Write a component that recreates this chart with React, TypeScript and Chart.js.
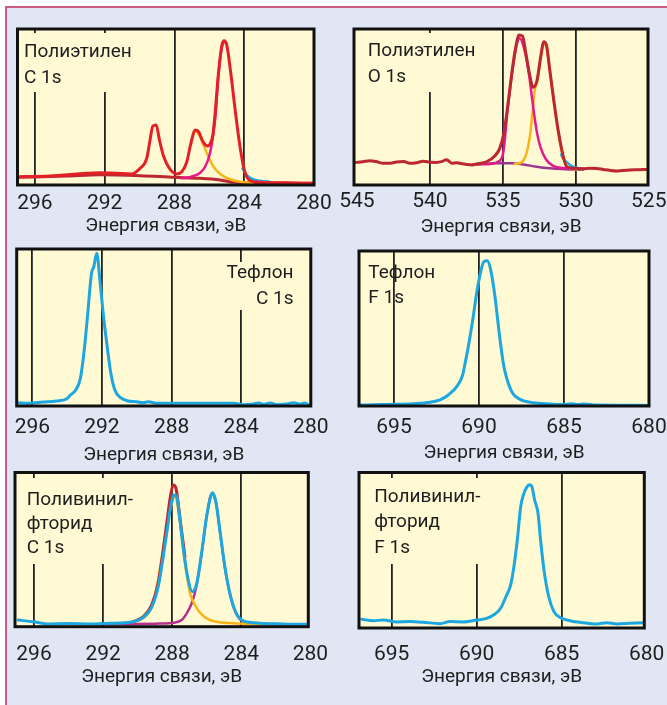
import React, { useEffect, useRef } from 'react';
import { Chart, registerables } from 'chart.js';

Chart.register(...registerables);

const W = 667;
const H = 705;
const AXIS_TITLE = 'Энергия связи, эВ';
const FONT = 'Roboto, "Open Sans", sans-serif';

// ---------- Panel 1: Полиэтилен C 1s ----------
const C_TICKS = [296, 292, 288, 284, 280];
const PE_C_RED_EV = [297.0, 295.14, 292.27, 291.31, 290.45, 289.97, 289.59, 289.4, 289.24, 289.05, 288.86, 288.63, 288.25, 287.87, 287.58, 287.29, 287.06, 286.82, 286.62, 286.37, 286.11, 285.95, 285.8, 285.67, 285.48, 285.28, 285.15, 285.0, 284.77, 284.52, 284.27, 284.04, 283.85, 283.6, 283.08, 281.75, 280.06];
const PE_C_RED = [5.3, 5.8, 7.9, 7.5, 7.1, 10.7, 17.1, 28.8, 37.8, 38.5, 28.8, 18.6, 10.0, 7.1, 8.5, 14.9, 26.7, 35.3, 34.2, 27.8, 25.0, 26.5, 32.0, 46.0, 71.6, 89.7, 92.5, 89.7, 71.6, 48.1, 26.7, 11.7, 5.0, 2.5, 1.8, 1.4, 1.1];
const PE_C_ORANGE_EV = [287.06, 286.82, 286.56, 286.3, 286.05, 285.76, 285.38, 284.81, 284.23, 283.47];
const PE_C_ORANGE = [26.0, 34.8, 31.5, 24.6, 18.1, 11.7, 7.1, 3.7, 2.1, 1.5];
const PE_C_MAGENTA_EV = [287.6, 287.29, 286.91, 286.53, 286.24, 285.99, 285.8, 285.65, 285.48, 285.28, 285.15];
const PE_C_MAGENTA = [4.4, 4.7, 5.8, 7.9, 11.7, 19.2, 30.6, 44.0, 70.0, 88.5, 91.8];
const PE_C_CYAN_EV = [284.1, 283.9, 283.6, 283.3, 282.9, 282.55];
const PE_C_CYAN = [10.5, 6.8, 4.2, 3.0, 2.4, 2.1];
const PE_C_BASE_EV = [297.0, 294.18, 292.27, 289.97, 287.96, 286.53, 285.38, 284.62, 282.7, 280.06];
const PE_C_BASE = [4.9, 5.8, 6.6, 6.0, 4.9, 4.3, 3.2, 1.7, 1.3, 1.1];

// ---------- Panel 2: Полиэтилен O 1s ----------
const O_TICKS = [545, 540, 535, 530, 525];
const PE_O_RED_EV = [545.07, 544.6, 544.11, 543.7, 543.2, 542.7, 542.28, 541.8, 541.37, 540.9, 540.46, 540.0, 539.54, 539.2, 538.86, 538.5, 538.17, 537.8, 537.49, 537.1, 536.8, 536.12, 535.55, 535.21, 534.93, 534.64, 534.34, 534.11, 533.88, 533.65, 533.42, 533.2, 532.92, 532.65, 532.42, 532.19, 532.01, 531.78, 531.51, 531.21, 530.91, 530.75, 530.6, 530.2, 529.5, 529.04, 528.6, 528.13, 527.7, 527.21, 526.8, 526.3, 525.7, 525.16];
const PE_O_RED = [14.5, 14.9, 15.6, 15.1, 13.9, 14.0, 14.7, 15.0, 13.9, 14.3, 15.2, 14.6, 14.5, 15.0, 16.2, 14.0, 14.3, 13.6, 13.2, 12.9, 13.5, 14.9, 18.6, 23.5, 33.1, 52.4, 74.8, 88.7, 96.2, 95.5, 84.4, 72.6, 62.6, 67.3, 81.2, 91.9, 89.7, 73.7, 54.5, 35.3, 20.3, 14.5, 11.5, 10.8, 10.4, 10.7, 10.6, 10.0, 9.4, 9.0, 9.3, 9.6, 9.8, 10.0];
const PE_O_MAGENTA_EV = [537.03, 535.89, 535.32, 534.98, 534.64, 534.11, 533.85, 533.5, 533.2, 533.01, 532.83, 532.65, 532.42, 532.05, 531.55, 530.64, 529.5];
const PE_O_MAGENTA = [13.2, 13.5, 14.9, 20.3, 51.0, 87.0, 94.0, 86.0, 70.5, 56.6, 43.8, 33.1, 24.2, 16.5, 12.2, 10.7, 10.3];
const PE_O_ORANGE_EV = [534.18, 533.72, 533.38, 533.15, 532.97, 532.81, 532.65, 532.42, 532.19, 532.01, 531.78, 531.51, 531.21, 530.91, 530.7, 530.4, 529.9];
const PE_O_ORANGE = [13.5, 14.5, 20.3, 31.0, 46.0, 60.9, 66.0, 80.0, 90.5, 88.5, 72.5, 53.5, 34.5, 19.5, 13.5, 10.5, 10.0];
const PE_O_CYAN_EV = [531.0, 530.9, 530.6, 530.25, 529.8, 529.5];
const PE_O_CYAN = [19.5, 17.5, 14.5, 12.0, 10.8, 10.5];
const PE_O_BASE_EV = [537.03, 535.43, 534.4, 533.61, 532.69, 531.78, 530.41, 529.5];
const PE_O_BASE = [13.2, 13.9, 13.9, 13.2, 11.7, 10.7, 10.0, 10.0];

// ---------- Panel 3: Тефлон C 1s ----------
const PTFE_C_EV = [296.86, 296.16, 295.39, 294.62, 294.04, 293.81, 293.51, 293.24, 293.04, 292.85, 292.6, 292.47, 292.3, 292.12, 291.93, 291.7, 291.49, 291.26, 290.93, 290.49, 290.01, 289.63, 289.34, 288.86, 286.36, 284.44, 283.87, 283.29, 283.0, 282.72, 282.33, 281.95, 281.37, 280.99, 280.6, 280.37, 280.12];
const PTFE_C = [2.1, 1.7, 2.5, 3.2, 4.5, 7.0, 10.2, 17.6, 33.6, 54.8, 84.5, 88.7, 97.3, 80.3, 59.0, 37.8, 20.8, 10.2, 5.3, 3.2, 2.7, 2.1, 2.7, 1.7, 1.7, 1.7, 0.8, 1.3, 1.9, 1.1, 1.9, 0.8, 1.3, 2.1, 1.1, 1.9, 0.8];

// ---------- Panel 4: Тефлон F 1s ----------
const F_TICKS = [695, 690, 685, 680];
const PTFE_F_EV = [697.0, 695.82, 694.84, 693.86, 692.88, 692.29, 691.81, 691.31, 690.96, 690.82, 690.63, 690.37, 690.14, 689.9, 689.71, 689.51, 689.31, 689.06, 688.81, 688.57, 688.37, 688.02, 687.59, 686.81, 685.82, 685.04, 684.55, 684.16, 683.86, 683.08, 680.04];
const PTFE_F = [0.6, 0.9, 1.1, 1.5, 2.4, 3.9, 7.1, 12.5, 20.0, 27.5, 38.3, 55.5, 72.7, 86.7, 93.1, 93.7, 87.7, 70.5, 46.9, 27.5, 17.9, 8.2, 4.3, 2.1, 1.3, 0.9, 1.5, 0.9, 1.3, 0.6, 0.4];

// ---------- Panel 5: Поливинилфторид C 1s ----------
const PVF_C_CYAN_EV = [296.91, 296.04, 295.17, 294.11, 292.76, 291.6, 290.25, 289.67, 289.19, 288.81, 288.52, 288.29, 288.09, 287.9, 287.74, 287.55, 287.32, 287.07, 286.84, 286.58, 286.3, 286.01, 285.77, 285.66, 285.47, 285.24, 284.95, 284.66, 284.37, 283.98, 283.31, 281.57, 280.22];
const PVF_C_CYAN = [4.3, 3.2, 1.8, 2.0, 1.8, 2.2, 3.2, 6.1, 12.6, 25.9, 45.4, 62.7, 77.8, 85.4, 84.3, 69.2, 47.6, 30.3, 22.7, 28.1, 47.6, 71.3, 84.3, 86.9, 81.1, 62.7, 38.9, 21.7, 10.8, 4.3, 2.6, 1.8, 1.6];
const PVF_C_RED_EV = [290.25, 289.67, 289.19, 288.81, 288.52, 288.29, 288.09, 287.94, 287.78, 287.63, 287.45, 287.26];
const PVF_C_RED = [3.2, 6.5, 14.0, 28.1, 49.7, 69.2, 85.4, 91.9, 89.8, 77.8, 61.6, 45.4];
const PVF_C_ORANGE_EV = [290.25, 289.19, 288.09, 287.84, 287.55, 287.32, 287.11, 286.97, 286.68, 286.39, 286.01, 285.43, 284.47, 283.31, 281.57];
const PVF_C_ORANGE = [3.0, 12.4, 77.0, 84.3, 68.0, 46.0, 30.3, 21.7, 14.1, 9.1, 5.4, 3.2, 2.2, 1.8, 1.6];
const PVF_C_PURPLE_EV = [292.18, 290.25, 288.71, 287.94, 287.45, 287.16, 286.87, 286.58, 286.3, 286.01, 285.7, 285.47, 285.24, 284.95, 284.66, 284.37, 283.98, 283.31, 281.57];
const PVF_C_PURPLE = [1.8, 1.8, 2.0, 2.6, 4.3, 8.7, 15.2, 27.0, 47.0, 71.0, 86.5, 80.5, 62.3, 38.5, 21.3, 10.4, 3.9, 2.2, 1.6];

// ---------- Panel 6: Поливинилфторид F 1s ----------
const PVF_F_EV = [696.76, 696.08, 695.49, 694.71, 693.92, 693.14, 692.16, 691.57, 690.79, 690.0, 689.41, 688.92, 688.59, 688.28, 688.0, 687.81, 687.61, 687.41, 687.22, 687.05, 686.9, 686.75, 686.59, 686.39, 686.24, 686.04, 685.76, 685.45, 685.06, 684.51, 683.73, 682.94, 682.35, 681.76, 680.98, 680.2];
const PVF_F = [5.6, 4.7, 5.1, 3.9, 4.1, 3.7, 2.8, 4.1, 3.9, 5.1, 6.2, 9.0, 12.7, 20.1, 27.7, 39.4, 56.6, 78.0, 86.6, 90.6, 92.2, 90.8, 82.3, 73.8, 56.6, 37.3, 20.1, 10.5, 6.6, 4.7, 3.4, 2.6, 3.4, 2.6, 3.0, 3.4];

// ---------- colours ----------
const RED = '#e42027';
const DARK_RED = '#bb2830';
const ORANGE = '#f9b418';
const MAGENTA = '#e6188b';
const PURPLE = '#9a3790';
const PURPLE2 = '#b4318b';
const CYAN = '#1ca7e0';
const PANEL_BG = '#fff9d4';
const INK = '#1e1e1e';

type Series = { ev: number[]; val: number[]; color: string; width: number };
type PanelCfg = {
  area: [number, number, number, number];
  range: [number, number];
  ticks: number[];
  noGrid: number[];
  tickMid: number;
  titleMid: number;
  label: string[];
  labelX: number;
  labelY: number[];
  labelAlign: CanvasTextAlign;
  mask?: [number, number, number, number];
  series: Series[]; // bottom-most first
};

const PANELS: PanelCfg[] = [
  {
    area: [17.5, 29, 314, 185], range: [280, 297.0], ticks: C_TICKS, noGrid: [280],
    tickMid: 203.5, titleMid: 226,
    label: ['Полиэтилен', 'C 1s'], labelX: 24, labelY: [56.7, 83.3], labelAlign: 'left',
    mask: [20, 33, 142, 92],
    series: [
      { ev: PE_C_BASE_EV, val: PE_C_BASE, color: DARK_RED, width: 3 },
      { ev: PE_C_CYAN_EV, val: PE_C_CYAN, color: CYAN, width: 2.5 },
      { ev: PE_C_ORANGE_EV, val: PE_C_ORANGE, color: ORANGE, width: 2.5 },
      { ev: PE_C_MAGENTA_EV, val: PE_C_MAGENTA, color: MAGENTA, width: 2.5 },
      { ev: PE_C_RED_EV, val: PE_C_RED, color: RED, width: 3 },
    ],
  },
  {
    area: [354, 29, 648, 185], range: [525.05, 545.2], ticks: O_TICKS, noGrid: [545, 525],
    tickMid: 202, titleMid: 227,
    label: ['Полиэтилен', 'O 1s'], labelX: 367.7, labelY: [56, 81.7], labelAlign: 'left',
    mask: [360, 33, 485, 92],
    series: [
      { ev: PE_O_BASE_EV, val: PE_O_BASE, color: PURPLE, width: 2.5 },
      { ev: PE_O_CYAN_EV, val: PE_O_CYAN, color: CYAN, width: 2.5 },
      { ev: PE_O_ORANGE_EV, val: PE_O_ORANGE, color: ORANGE, width: 2.5 },
      { ev: PE_O_MAGENTA_EV, val: PE_O_MAGENTA, color: MAGENTA, width: 2.5 },
      { ev: PE_O_RED_EV, val: PE_O_RED, color: DARK_RED, width: 3 },
    ],
  },
  {
    area: [16.7, 249, 310.8, 406], range: [280, 296.9], ticks: C_TICKS, noGrid: [280],
    tickMid: 427.7, titleMid: 455,
    label: ['Тефлон', 'C 1s'], labelX: 293.5, labelY: [277.7, 304.3], labelAlign: 'right',
    mask: [222, 262, 300, 310],
    series: [{ ev: PTFE_C_EV, val: PTFE_C, color: CYAN, width: 3 }],
  },
  {
    area: [359, 251, 649, 406], range: [680, 697.06], ticks: F_TICKS, noGrid: [680],
    tickMid: 427.7, titleMid: 453.5,
    label: ['Тефлон', 'F 1s'], labelX: 368.3, labelY: [278.3, 303.3], labelAlign: 'left',
    series: [{ ev: PTFE_F_EV, val: PTFE_F, color: CYAN, width: 3 }],
  },
  {
    area: [15, 472.5, 308.3, 626.7], range: [280.12, 297.1], ticks: C_TICKS, noGrid: [280],
    tickMid: 654.3, titleMid: 677.7,
    label: ['Поливинил-', 'фторид', 'C 1s'], labelX: 26.7, labelY: [505, 528.5, 553.3], labelAlign: 'left',
    mask: [20, 478, 140, 564],
    series: [
      { ev: PVF_C_PURPLE_EV, val: PVF_C_PURPLE, color: PURPLE2, width: 2.5 },
      { ev: PVF_C_ORANGE_EV, val: PVF_C_ORANGE, color: ORANGE, width: 2.5 },
      { ev: PVF_C_RED_EV, val: PVF_C_RED, color: DARK_RED, width: 3 },
      { ev: PVF_C_CYAN_EV, val: PVF_C_CYAN, color: CYAN, width: 3 },
    ],
  },
  {
    area: [359, 472.5, 644.3, 628], range: [680.14, 696.92], ticks: F_TICKS, noGrid: [680],
    tickMid: 654.3, titleMid: 677.7,
    label: ['Поливинил-', 'фторид', 'F 1s'], labelX: 374.3, labelY: [501.7, 526.7, 552.7], labelAlign: 'left',
    mask: [368, 478, 490, 564],
    series: [{ ev: PVF_F_EV, val: PVF_F, color: CYAN, width: 3 }],
  },
];

const TICK_SIZE = 21;
const TITLE_SIZE = 19;
const LABEL_SIZE = 19;

function SpectrumPanel({ p }: { p: PanelCfg }) {
  const ref = useRef<HTMLCanvasElement | null>(null);
  useEffect(() => {
    const canvas = ref.current;
    if (!canvas) return;
    const [L, T, R, B] = p.area;
    const axisH = p.titleMid + 0.6 * TITLE_SIZE - B;
    const tickPad = p.tickMid - B - 0.6 * TICK_SIZE;
    const datasets = p.series
      .map((s) => ({
        data: s.ev.map((x, i) => ({ x, y: s.val[i] })),
        showLine: true,
        borderColor: s.color,
        backgroundColor: s.color,
        borderWidth: s.width,
        pointRadius: 0,
        pointHoverRadius: 0,
        cubicInterpolationMode: 'monotone' as const,
        borderJoinStyle: 'round' as const,
        borderCapStyle: 'round' as const,
        fill: false,
      }))
      .reverse();

    const deco = {
      id: 'panelDeco',
      beforeDraw(chart: any) {
        const { ctx, chartArea: a } = chart;
        ctx.save();
        ctx.fillStyle = PANEL_BG;
        ctx.fillRect(a.left, a.top, a.right - a.left, a.bottom - a.top);
        ctx.restore();
      },
      beforeDatasetsDraw(chart: any) {
        if (!p.mask) return;
        const { ctx } = chart;
        const [x0, y0, x1, y1] = p.mask;
        ctx.save();
        ctx.fillStyle = PANEL_BG;
        ctx.fillRect(x0, y0, x1 - x0, y1 - y0);
        ctx.restore();
      },
      afterDatasetsDraw(chart: any) {
        const { ctx } = chart;
        ctx.save();
        ctx.font = `${LABEL_SIZE}px ${FONT}`;
        ctx.fillStyle = INK;
        ctx.textAlign = p.labelAlign;
        ctx.textBaseline = 'alphabetic';
        p.label.forEach((line, i) => ctx.fillText(line, p.labelX, p.labelY[i]));
        ctx.restore();
      },
      afterDraw(chart: any) {
        const { ctx, chartArea: a } = chart;
        ctx.save();
        ctx.strokeStyle = '#111';
        ctx.lineWidth = 3;
        ctx.strokeRect(a.left, a.top, a.right - a.left, a.bottom - a.top);
        ctx.restore();
      },
    };

    const chart = new Chart(canvas, {
      type: 'scatter',
      data: { datasets } as any,
      options: {
        responsive: false,
        maintainAspectRatio: false,
        animation: false,
        events: [],
        layout: { padding: { left: L, top: T, right: W - R, bottom: H - B - axisH } },
        plugins: { legend: { display: false }, tooltip: { enabled: false } },
        scales: {
          x: {
            type: 'linear',
            reverse: true,
            min: p.range[0],
            max: p.range[1],
            afterBuildTicks: (s: any) => {
              s.ticks = p.ticks.map((v) => ({ value: v }));
            },
            afterFit: (s: any) => {
              s.height = axisH;
              s.paddingLeft = 0;
              s.paddingRight = 0;
            },
            grid: {
              display: true,
              drawTicks: false,
              lineWidth: 1.8,
              color: (c: any) => (c.tick && p.noGrid.includes(c.tick.value) ? 'rgba(0,0,0,0)' : '#222'),
            },
            border: { display: false },
            ticks: {
              autoSkip: false,
              maxRotation: 0,
              padding: tickPad,
              color: INK,
              font: { family: FONT, size: TICK_SIZE },
              callback: (v: any) => String(v),
            },
            title: {
              display: true,
              text: AXIS_TITLE,
              color: INK,
              font: { family: FONT, size: TITLE_SIZE },
              padding: { top: 0, bottom: 0 },
            },
          },
          y: { type: 'linear', display: false, min: 0, max: 100 },
        },
      } as any,
      plugins: [deco],
    });
    return () => chart.destroy();
  }, [p]);

  return (
    <canvas
      ref={ref}
      width={W}
      height={H}
      style={{ position: 'absolute', left: 0, top: 0, width: W, height: H }}
    />
  );
}

export default function App() {
  return (
    <div style={{ position: 'absolute', left: 0, top: 0, width: W, height: H, background: '#ffffff', overflow: 'hidden' }}>
      <div
        style={{
          position: 'absolute', left: 5, top: 6, right: 0, bottom: 0,
          background: '#e0e6f4', borderLeft: '2px solid #cf5a86', borderTop: '2px solid #cf5a86',
        }}
      />
      {PANELS.map((p, i) => (
        <SpectrumPanel key={i} p={p} />
      ))}
    </div>
  );
}
